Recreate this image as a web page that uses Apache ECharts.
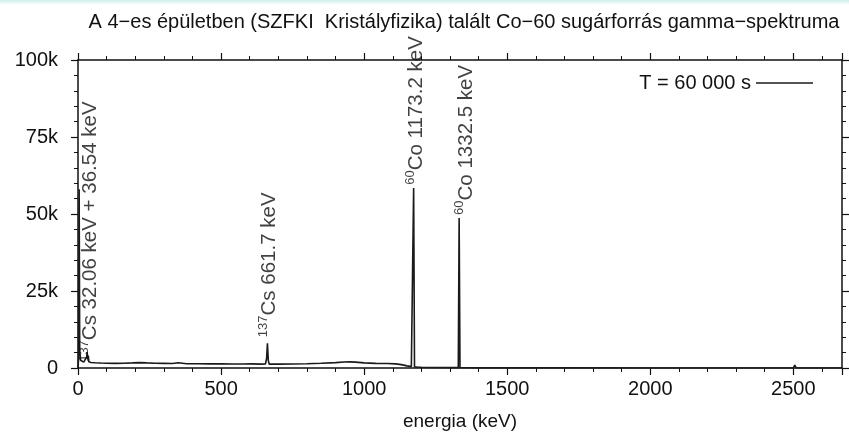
<!DOCTYPE html>
<html>
<head>
<meta charset="utf-8">
<style>
  html, body { margin: 0; padding: 0; background: #fff; }
  #chart { width: 849px; height: 438px; }
</style>
<script src="https://cdn.jsdelivr.net/npm/echarts@6/dist/echarts.min.js"></script>
</head>
<body>
<div id="chart"></div>
<script>
(function() {
  // spectrum (keV, counts)
  var energy = [0, 2, 4, 6, 9, 14, 20, 26, 30, 32, 34, 36, 38, 45, 60, 80, 100, 130, 160, 190,
    215, 240, 270, 300, 330, 350, 355, 380, 420, 460, 500, 540, 580, 605, 610, 640, 655, 659, 662, 665,
    668, 700, 750, 800, 850, 900, 930, 950, 970, 1000, 1040, 1080, 1110, 1130, 1150, 1165, 1170, 1173, 1176, 1185,
    1200, 1230, 1260, 1300, 1329, 1332, 1335, 1360, 1400, 1500, 1700, 2000, 2300, 2500, 2505, 2510, 2670];
  var counts = [0, 3000, 58000, 6000, 2500, 2000, 1900, 2200, 3500, 5200, 3000, 4000, 2000, 1800, 1700, 1600, 1550, 1500, 1550, 1650,
    1750, 1650, 1550, 1500, 1450, 1700, 1450, 1400, 1380, 1350, 1330, 1300, 1280, 1350, 1270, 1250, 1300, 3000, 8000, 2500,
    1250, 1250, 1300, 1400, 1550, 1750, 1950, 2000, 1900, 1650, 1500, 1450, 1350, 1100, 700, 450, 400, 58400, 350, 300,
    250, 180, 150, 130, 120, 48700, 100, 60, 40, 30, 25, 20, 15, 20, 900, 15, 10];

  var seriesName = 'T = 60 000 s';
  var titleText = 'A 4\u2212es épületben (SZFKI  Kristályfizika) talált Co\u221260 sugárforrás gamma\u2212spektruma';
  var xName = 'energia (keV)';

  // peak annotations: anchor (keV, counts), isotope mass number, rest of text
  var noteEnergy = [40, 666, 1178, 1352];
  var noteCounts = [2000, 10000, 59500, 49700];
  var noteMass = ['137', '137', '60', '60'];
  var noteText = ['Cs 32.06 keV + 36.54 keV', 'Cs 661.7 keV', 'Co 1173.2 keV', 'Co 1332.5 keV'];

  var ink = '#111';
  var font = '"Liberation Sans", Arial, sans-serif';

  var line = energy.map(function(e, i) { return [e, counts[i]]; });
  var notes = noteEnergy.map(function(e, i) {
    return { value: [e, noteCounts[i]], mass: noteMass[i], text: noteText[i] };
  });

  var chart = echarts.init(document.getElementById('chart'), null, { renderer: 'canvas' });

  function frameAxis(pos, labels) {
    return {
      type: 'value',
      position: pos,
      axisLine: { show: true, onZero: false, lineStyle: { color: ink, width: 1.5 } },
      axisTick: { show: true, inside: false, length: 7, lineStyle: { color: ink, width: 1.2 } },
      minorTick: { show: true, splitNumber: 5, length: 4, lineStyle: { color: ink, width: 1 } },
      splitLine: { show: false },
      axisLabel: labels ? { show: true, color: ink, fontFamily: font, fontSize: 20 } : { show: false }
    };
  }

  var xBottom = frameAxis('bottom', true);
  xBottom.min = 0; xBottom.max = 2670; xBottom.interval = 500;
  xBottom.axisLabel.margin = 11;
  xBottom.axisLabel.showMaxLabel = false;
  xBottom.axisLabel.formatter = function(v) { return String(v); };
  xBottom.name = xName;
  xBottom.nameLocation = 'middle';
  xBottom.nameGap = 44;
  xBottom.nameTextStyle = { color: ink, fontFamily: font, fontSize: 19 };
  var xTop = frameAxis('top', false);
  xTop.min = 0; xTop.max = 2670; xTop.interval = 500;

  var yLeft = frameAxis('left', true);
  yLeft.min = 0; yLeft.max = 100000; yLeft.interval = 25000;
  yLeft.axisLabel.margin = 20;
  yLeft.axisLabel.formatter = function(v) { return v === 0 ? '0' : (v / 1000) + 'k'; };
  var yRight = frameAxis('right', false);
  yRight.min = 0; yRight.max = 100000; yRight.interval = 25000;

  chart.setOption({
    animation: false,
    backgroundColor: '#fff',
    graphic: [{
      type: 'rect', left: 0, top: 0, shape: { width: 849, height: 5 },
      style: { fill: new echarts.graphic.LinearGradient(0, 0, 0, 1, [
        { offset: 0, color: '#cdeee9' }, { offset: 1, color: '#ffffff' }]) },
      silent: true
    }],
    title: {
      text: titleText,
      left: 459, top: 7, textAlign: 'center',
      textStyle: { color: ink, fontFamily: font, fontSize: 20, fontWeight: 'normal' }
    },
    legend: {
      right: 31, top: 68, align: 'right',
      icon: 'rect', itemWidth: 57, itemHeight: 1.5, itemGap: 12,
      textStyle: { color: ink, fontFamily: font, fontSize: 20 },
      data: [seriesName]
    },
    grid: { left: 78, right: 7, top: 60, bottom: 70 },
    xAxis: [xBottom, xTop],
    yAxis: [yLeft, yRight],
    series: [{
      name: seriesName,
      type: 'line',
      data: line,
      showSymbol: false,
      symbol: 'none',
      lineStyle: { color: '#1a1a1a', width: 1.6 },
      itemStyle: { color: '#1a1a1a' },
      z: 3
    }, {
      name: 'notes',
      type: 'scatter',
      data: notes,
      symbolSize: 0,
      silent: true,
      z: 4,
      label: {
        show: true,
        position: [0, 0],
        rotate: 90,
        align: 'left',
        verticalAlign: 'middle',
        formatter: function(p) { return '{sup|' + p.data.mass + '}{main|' + p.data.text + '}'; },
        rich: {
          sup: { fontSize: 13, color: ink, fontFamily: font, verticalAlign: 'top', lineHeight: 23 },
          main: { fontSize: 20.5, color: ink, fontFamily: font, verticalAlign: 'bottom', lineHeight: 23 }
        }
      }
    }]
  });
  window.addEventListener('resize', function() { chart.resize(); });
})();
</script>
</body>
</html>
